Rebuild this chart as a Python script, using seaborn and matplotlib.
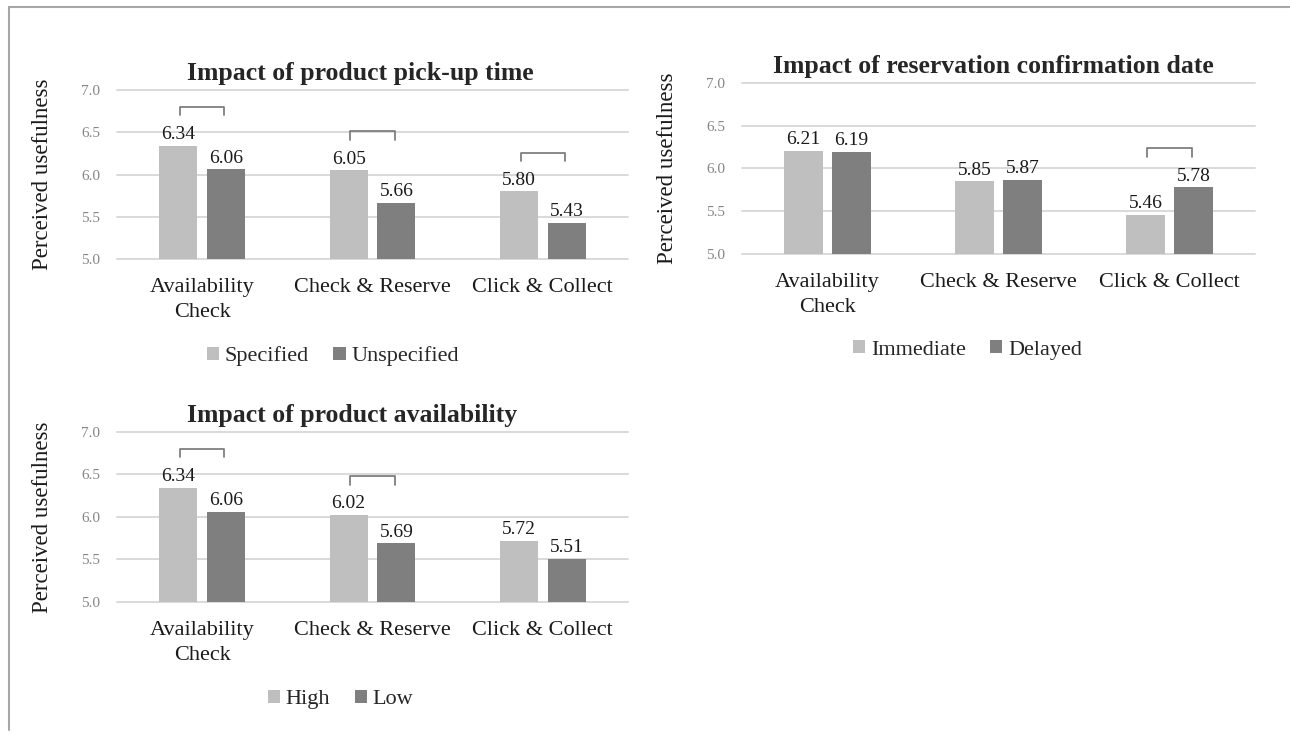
import pandas as pd
import seaborn as sns
import matplotlib.pyplot as plt
from matplotlib.lines import Line2D

sns.set_style("white")
plt.rcParams['font.family'] = ['Liberation Serif', 'DejaVu Serif']

# data
channels = ["Availability\nCheck", "Check & Reserve", "Click & Collect"]

pickup_labels = ["Specified", "Unspecified"]
pickup_specified = [6.34, 6.05, 5.80]
pickup_unspecified = [6.06, 5.66, 5.43]
pickup_sig = [True, True, True]

confirm_labels = ["Immediate", "Delayed"]
confirm_immediate = [6.21, 5.85, 5.46]
confirm_delayed = [6.19, 5.87, 5.78]
confirm_sig = [False, False, True]

avail_labels = ["High", "Low"]
avail_high = [6.34, 6.02, 5.72]
avail_low = [6.06, 5.69, 5.51]
avail_sig = [True, True, False]

light = "#BFBFBF"
dark = "#7F7F7F"

fig = plt.figure(figsize=(12.9, 7.35), dpi=100)

# light frame at left/top like the original screenshot
fig.add_artist(Line2D([0.007, 0.007], [0.007, 0.990], color="#A6A6A6", lw=1.5))
fig.add_artist(Line2D([0.007, 1.0], [0.990, 0.990], color="#A6A6A6", lw=1.5))

panels = [
    ("Impact of product pick-up time", [0.0907, 0.6476, 0.3961, 0.2299],
     pickup_labels, pickup_specified, pickup_unspecified, pickup_sig, 0.476, (0.258, 0.515)),
    ("Impact of reservation confirmation date", [0.5752, 0.6544, 0.3977, 0.2327],
     confirm_labels, confirm_immediate, confirm_delayed, confirm_sig, 0.49, (0.750, 0.524)),
    ("Impact of product availability", [0.0907, 0.1810, 0.3961, 0.2313],
     avail_labels, avail_high, avail_low, avail_sig, 0.46, (0.264, 0.048)),
]

for title, rect, labels, vals_a, vals_b, sig, tx, leg_xy in panels:
    ax = fig.add_axes(rect)
    df = pd.DataFrame({
        "channel": channels * 2,
        "group": [labels[0]] * 3 + [labels[1]] * 3,
        "value": vals_a + vals_b,
    })
    sns.barplot(data=df, x="channel", y="value", hue="group", palette=[light, dark],
                width=0.56, gap=0.2, errorbar=None, saturation=1, linewidth=0, ax=ax)

    ax.set_xlim(-0.5, 2.5)
    ax.set_ylim(5, 7)
    ticks = [5.0, 5.5, 6.0, 6.5, 7.0]
    ax.set_yticks(ticks)
    ax.set_yticklabels([f"{t:.1f}" for t in ticks])
    ax.yaxis.grid(True, color="#D9D9D9", lw=1.4, clip_on=False)
    ax.set_axisbelow(True)
    for s in ax.spines.values():
        s.set_visible(False)
    ax.tick_params(axis="y", length=0, pad=12, labelsize=11, labelcolor="#858585")
    ax.tick_params(axis="x", length=0, pad=14, labelsize=16, labelcolor="#1A1A1A")
    for lbl in ax.get_xticklabels():
        lbl.set_linespacing(1.4)

    for c in ax.containers:
        ax.bar_label(c, fmt="%.2f", padding=2, fontsize=14, color="#1A1A1A")

    # significance brackets
    for i, s in enumerate(sig):
        if s:
            top = max(vals_a[i], vals_b[i]) + 0.46
            ax.plot([i - 0.13, i - 0.13, i + 0.13, i + 0.13],
                    [top - 0.1, top, top, top - 0.1], color="#7F7F7F", lw=1.3)

    ax.set_xlabel("")
    ax.set_ylabel("Perceived usefulness", fontsize=16.5, color="#1A1A1A")
    ax.yaxis.set_label_coords(-0.125, 0.5)
    ax.set_title(title, fontsize=18.5, fontweight="bold", x=tx, pad=7)

    handles, names = ax.get_legend_handles_labels()
    ax.legend(handles, names, loc="center", bbox_to_anchor=leg_xy,
              bbox_transform=fig.transFigure, ncol=2, frameon=False, fontsize=16,
              handlelength=0.55, handleheight=0.55, handletextpad=0.25,
              columnspacing=1.1)

fig.savefig("out.png", dpi=100)
